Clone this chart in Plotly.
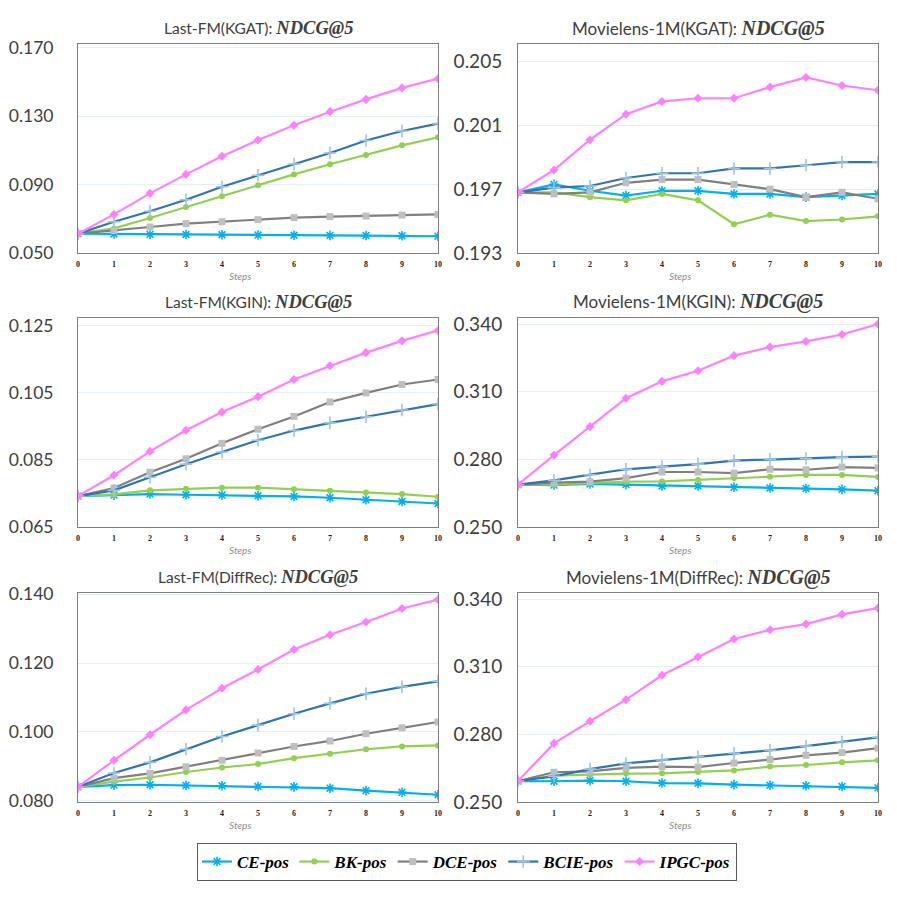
import plotly.graph_objects as go

STEPS = list(range(11))
SERIES = ["CE-pos", "BK-pos", "DCE-pos", "BCIE-pos", "IPGC-pos"]

# Last-FM (KGAT)
lfm_kgat_ce = [0.0613, 0.0611, 0.0609, 0.0608, 0.0607, 0.0605, 0.0604, 0.0603, 0.0602, 0.0601, 0.0598]
lfm_kgat_bk = [0.0613, 0.0644, 0.0705, 0.0769, 0.0832, 0.0896, 0.0960, 0.1019, 0.1074, 0.1130, 0.1177]
lfm_kgat_dce = [0.0613, 0.0631, 0.0652, 0.0672, 0.0683, 0.0695, 0.0707, 0.0713, 0.0716, 0.0722, 0.0726]
lfm_kgat_bcie = [0.0613, 0.0683, 0.0744, 0.0812, 0.0888, 0.0955, 0.1021, 0.1085, 0.1158, 0.1214, 0.1257]
lfm_kgat_ipgc = [0.0613, 0.0726, 0.0849, 0.0960, 0.1066, 0.1161, 0.1247, 0.1327, 0.1399, 0.1466, 0.1520]

# Movielens-1M (KGAT)
ml_kgat_ce = [0.1968, 0.1973, 0.1969, 0.1966, 0.1969, 0.1969, 0.1967, 0.1967, 0.1965, 0.1966, 0.1967]
ml_kgat_bk = [0.1968, 0.1968, 0.1965, 0.1963, 0.1967, 0.1963, 0.1948, 0.1954, 0.1950, 0.1951, 0.1953]
ml_kgat_dce = [0.1968, 0.1967, 0.1968, 0.1974, 0.1976, 0.1976, 0.1973, 0.1970, 0.1965, 0.1968, 0.1964]
ml_kgat_bcie = [0.1968, 0.1971, 0.1972, 0.1977, 0.1980, 0.1980, 0.1983, 0.1983, 0.1985, 0.1987, 0.1987]
ml_kgat_ipgc = [0.1968, 0.1982, 0.2001, 0.2017, 0.2025, 0.2027, 0.2027, 0.2034, 0.2040, 0.2035, 0.2032]

# Last-FM (KGIN)
lfm_kgin_ce = [0.0742, 0.0745, 0.0748, 0.0746, 0.0745, 0.0743, 0.0741, 0.0737, 0.0731, 0.0726, 0.0720]
lfm_kgin_bk = [0.0742, 0.0747, 0.0759, 0.0764, 0.0767, 0.0767, 0.0762, 0.0758, 0.0753, 0.0748, 0.0740]
lfm_kgin_dce = [0.0742, 0.0766, 0.0813, 0.0853, 0.0899, 0.0941, 0.0979, 0.1022, 0.1049, 0.1074, 0.1089]
lfm_kgin_bcie = [0.0742, 0.0759, 0.0798, 0.0837, 0.0873, 0.0908, 0.0937, 0.0960, 0.0978, 0.0998, 0.1016]
lfm_kgin_ipgc = [0.0742, 0.0804, 0.0875, 0.0938, 0.0992, 0.1038, 0.1089, 0.1130, 0.1169, 0.1204, 0.1235]

# Movielens-1M (KGIN)
ml_kgin_ce = [0.2688, 0.2686, 0.2691, 0.2688, 0.2682, 0.2682, 0.2676, 0.2673, 0.2671, 0.2667, 0.2661]
ml_kgin_bk = [0.2688, 0.2689, 0.2695, 0.2701, 0.2702, 0.2708, 0.2717, 0.2723, 0.2731, 0.2731, 0.2722]
ml_kgin_dce = [0.2688, 0.2697, 0.2701, 0.2717, 0.2744, 0.2744, 0.2739, 0.2756, 0.2754, 0.2766, 0.2762]
ml_kgin_bcie = [0.2688, 0.2707, 0.2732, 0.2756, 0.2768, 0.2779, 0.2794, 0.2800, 0.2804, 0.2810, 0.2812]
ml_kgin_ipgc = [0.2688, 0.2819, 0.2945, 0.3071, 0.3146, 0.3193, 0.3260, 0.3298, 0.3323, 0.3354, 0.3400]

# Last-FM (DiffRec)
lfm_diff_ce = [0.0841, 0.0846, 0.0847, 0.0845, 0.0844, 0.0842, 0.0841, 0.0837, 0.0830, 0.0825, 0.0818]
lfm_diff_bk = [0.0841, 0.0856, 0.0868, 0.0884, 0.0897, 0.0907, 0.0924, 0.0937, 0.0950, 0.0958, 0.0961]
lfm_diff_dce = [0.0841, 0.0866, 0.0880, 0.0899, 0.0918, 0.0939, 0.0958, 0.0974, 0.0995, 0.1012, 0.1029]
lfm_diff_bcie = [0.0841, 0.0881, 0.0912, 0.0950, 0.0987, 0.1020, 0.1053, 0.1083, 0.1111, 0.1131, 0.1147]
lfm_diff_ipgc = [0.0841, 0.0918, 0.0992, 0.1064, 0.1127, 0.1181, 0.1239, 0.1282, 0.1319, 0.1358, 0.1384]

# Movielens-1M (DiffRec)
ml_diff_ce = [0.2593, 0.2592, 0.2595, 0.2592, 0.2584, 0.2583, 0.2577, 0.2574, 0.2572, 0.2569, 0.2563]
ml_diff_bk = [0.2593, 0.2617, 0.2621, 0.2626, 0.2627, 0.2633, 0.2640, 0.2657, 0.2664, 0.2676, 0.2685]
ml_diff_dce = [0.2593, 0.2632, 0.2636, 0.2651, 0.2657, 0.2655, 0.2673, 0.2688, 0.2707, 0.2719, 0.2739]
ml_diff_bcie = [0.2593, 0.2614, 0.2646, 0.2671, 0.2686, 0.2701, 0.2716, 0.2729, 0.2748, 0.2766, 0.2787]
ml_diff_ipgc = [0.2593, 0.2760, 0.2858, 0.2954, 0.3062, 0.3143, 0.3223, 0.3264, 0.3289, 0.3332, 0.3360]

PANEL_TITLES = ["Last-FM(KGAT)", "Movielens-1M(KGAT)", "Last-FM(KGIN)",
                "Movielens-1M(KGIN)", "Last-FM(DiffRec)", "Movielens-1M(DiffRec)"]
METRIC = "NDCG@5"
PANEL_DATA = [
    [lfm_kgat_ce, lfm_kgat_bk, lfm_kgat_dce, lfm_kgat_bcie, lfm_kgat_ipgc],
    [ml_kgat_ce, ml_kgat_bk, ml_kgat_dce, ml_kgat_bcie, ml_kgat_ipgc],
    [lfm_kgin_ce, lfm_kgin_bk, lfm_kgin_dce, lfm_kgin_bcie, lfm_kgin_ipgc],
    [ml_kgin_ce, ml_kgin_bk, ml_kgin_dce, ml_kgin_bcie, ml_kgin_ipgc],
    [lfm_diff_ce, lfm_diff_bk, lfm_diff_dce, lfm_diff_bcie, lfm_diff_ipgc],
    [ml_diff_ce, ml_diff_bk, ml_diff_dce, ml_diff_bcie, ml_diff_ipgc],
]
Y_TICKS = [
    [0.050, 0.090, 0.130, 0.170],
    [0.193, 0.197, 0.201, 0.205],
    [0.065, 0.085, 0.105, 0.125],
    [0.250, 0.280, 0.310, 0.340],
    [0.080, 0.100, 0.120, 0.140],
    [0.250, 0.280, 0.310, 0.340],
]
Y_RANGES = [
    [0.050, 0.1723],
    [0.193, 0.2061],
    [0.065, 0.1272],
    [0.250, 0.3427],
    [0.0797, 0.1403],
    [0.250, 0.3427],
]

# styles
W = H = 897
COL_X = [(78, 438), (518, 878)]
ROW_Y = [(44, 253), (318, 527), (593, 802)]
LINE_COLORS = ["#00B0F0", "#92D050", "#808080", "#2E75B6", "#FF80FF"]
MARKER_COLORS = ["#00B0F0", "#92D050", "#BFBFBF", "#9DC3E6", "#FF80FF"]
SYMBOLS = ["asterisk-open", "circle", "square", "cross-thin-open", "diamond"]
SIZES = [8, 6, 7, 9, 7]

fig = go.Figure()
layout = {}
annotations = []
for p in range(6):
    r, c = divmod(p, 2)
    suffix = "" if p == 0 else str(p + 1)
    xa, ya = "x" + suffix, "y" + suffix
    x0, x1 = COL_X[c]
    y0, y1 = ROW_Y[r]
    for s in range(5):
        sym = SYMBOLS[s]
        open_sym = sym.endswith("open")
        fig.add_trace(go.Scatter(
            x=STEPS, y=PANEL_DATA[p][s], mode="lines+markers",
            name=SERIES[s], legendgroup=SERIES[s], showlegend=(p == 0),
            xaxis=xa, yaxis=ya,
            line=dict(color=LINE_COLORS[s], width=2.2),
            marker=dict(symbol=sym, size=SIZES[s], color=MARKER_COLORS[s],
                        line=dict(color=MARKER_COLORS[s], width=1.6 if open_sym else 0)),
        ))
    layout["xaxis" + suffix] = dict(
        domain=[x0 / W, x1 / W], anchor=ya, range=[0, 10], automargin=False,
        tickvals=STEPS, showgrid=False, zeroline=False,
        showline=True, mirror=True, linecolor="#7F7F7F", linewidth=1,
        ticks="", ticklabelstandoff=3,
        tickfont=dict(family="Liberation Serif", size=8, color="#222222", weight="bold"),
    )
    tick_size = 17.5 if c == 0 else 19
    layout["yaxis" + suffix] = dict(
        domain=[1 - y1 / H, 1 - y0 / H], anchor=xa, range=Y_RANGES[p], automargin=False,
        tickvals=Y_TICKS[p], tickformat=".3f",
        showgrid=True, gridcolor="#E6EEF7", gridwidth=1, zeroline=False,
        showline=True, mirror=True, linecolor="#7F7F7F", linewidth=1,
        ticks="", ticklabelstandoff=(20 if c == 0 else 11),
        tickfont=dict(family="Lato", size=tick_size, color="#404040"),
    )
    title_size = 15.5 if c == 0 else 17
    annotations.append(dict(
        x=(x0 + x1) / 2 / W, y=1 - (y0 - 16) / H, xref="paper", yref="paper",
        xanchor="center", yanchor="middle", showarrow=False,
        text=(f"{PANEL_TITLES[p]}: <span style=\"font-family:Liberation Serif;font-size:{title_size + 3}px\">"
              f"<b><i>{METRIC}</i></b></span>"),
        font=dict(family="Lato", size=title_size, color="#404040"),
    ))
    annotations.append(dict(
        x=((x0 + x1) / 2 - 18) / W, y=1 - (y1 + 23) / H, xref="paper", yref="paper",
        xanchor="center", yanchor="middle", showarrow=False,
        text="<i>Steps</i>", font=dict(family="Lato", size=10, color="#8C8C8C"),
    ))

fig.update_layout(
    width=W, height=H, margin=dict(l=0, r=0, t=0, b=0, autoexpand=False),
    paper_bgcolor="white", plot_bgcolor="white",
    annotations=annotations,
    legend=dict(
        orientation="h", x=197 / W, y=1 - 843 / H, xanchor="left", yanchor="top",
        bordercolor="#595959", borderwidth=1, bgcolor="white",
        font=dict(family="Liberation Serif", size=17, color="black", weight="bold", style="italic"),
        itemwidth=30,
    ),
    **layout,
)
fig.write_html("out.html", config={"displayModeBar": False},
               post_script="document.body.style.margin='0';")
